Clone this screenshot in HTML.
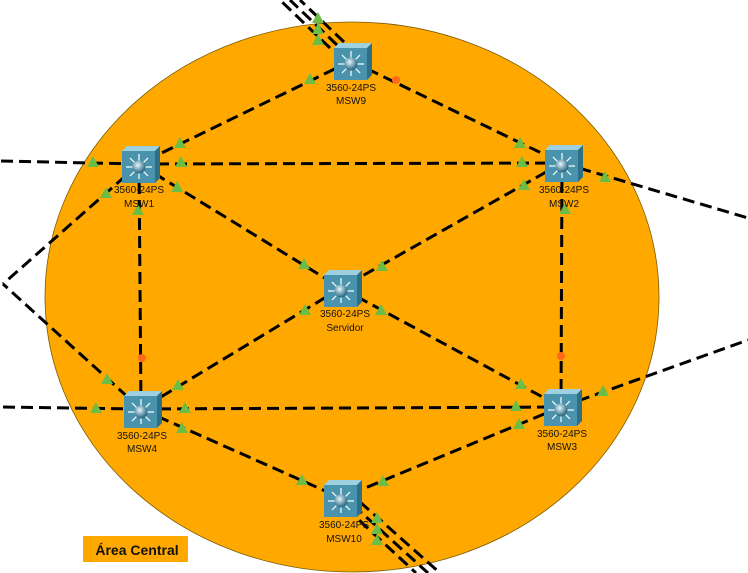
<!DOCTYPE html>
<html><head><meta charset="utf-8"><style>
body{margin:0;background:#fff;width:748px;height:573px;overflow:hidden}
svg{display:block}
text{font-family:"Liberation Sans",sans-serif;font-size:10px;fill:#111;text-anchor:middle}
</style></head><body>
<svg width="748" height="573" viewBox="0 0 748 573">
<defs>
<radialGradient id="bl" cx="0.4" cy="0.35" r="0.6"><stop offset="0" stop-color="#e8f6fb"/><stop offset="1" stop-color="#2d6d86"/></radialGradient>
<g id="sw">
<polygon points="-18,-13 -13,-18 20,-18 15,-13" fill="#9fd0e0"/>
<polygon points="15,-13 20,-18 20,14 15,19" fill="#2f6f86"/>
<rect x="-18" y="-13" width="33" height="32" fill="#4a93ad"/>
<g stroke="#fff" stroke-width="1.2">
<line x1="-1" y1="3" x2="-1" y2="-10"/><line x1="-1" y1="3" x2="-1" y2="15"/>
<line x1="-1" y1="3" x2="-14" y2="3"/><line x1="-1" y1="3" x2="12" y2="3"/>
<line x1="-1" y1="3" x2="-10" y2="-6"/><line x1="-1" y1="3" x2="8" y2="-6"/>
<line x1="-1" y1="3" x2="-10" y2="12"/><line x1="-1" y1="3" x2="8" y2="12"/>
</g>
<circle cx="-1" cy="3" r="6.5" fill="url(#bl)"/>
</g>
<polygon id="tr" points="0,-6 6,5 -6,5" fill="#6cbd45"/>
</defs>
<ellipse cx="352" cy="297" rx="307" ry="275" fill="#ffa900" stroke="#7a5a00" stroke-width="0.8"/>
<g stroke="#000" stroke-width="3" stroke-dasharray="12,6" fill="none">
<line x1="351" y1="61" x2="139" y2="164"/>
<line x1="351" y1="61" x2="562" y2="163"/>
<line x1="139" y1="164" x2="562" y2="163"/>
<line x1="139" y1="164" x2="341" y2="288"/>
<line x1="562" y1="163" x2="341" y2="288"/>
<line x1="139" y1="164" x2="141" y2="409"/>
<line x1="562" y1="163" x2="561" y2="407"/>
<line x1="341" y1="288" x2="141" y2="409"/>
<line x1="341" y1="288" x2="561" y2="407"/>
<line x1="141" y1="409" x2="561" y2="407"/>
<line x1="141" y1="409" x2="341" y2="498"/>
<line x1="561" y1="407" x2="341" y2="498"/>
<line x1="139" y1="164" x2="0" y2="161"/>
<line x1="139" y1="164" x2="3" y2="284"/>
<line x1="141" y1="409" x2="3" y2="284"/>
<line x1="141" y1="409" x2="0" y2="407"/>
<line x1="562" y1="163" x2="748" y2="218"/>
<line x1="561" y1="407" x2="748" y2="340"/>
<line x1="330" y1="48" x2="280" y2="0"/>
<line x1="337" y1="45" x2="290" y2="0"/>
<line x1="344" y1="42" x2="300" y2="0"/>
<line x1="346" y1="508" x2="416" y2="573"/>
<line x1="353" y1="505" x2="428" y2="573"/>
<line x1="360" y1="502" x2="440" y2="573"/>
</g>
<circle cx="396" cy="80" r="4" fill="#ff6a1a"/>
<circle cx="142" cy="358" r="4" fill="#ff6a1a"/>
<circle cx="561" cy="356" r="4" fill="#ff6a1a"/>
<g>
<use href="#tr" x="318" y="18"/><use href="#tr" x="318" y="29"/><use href="#tr" x="318" y="40"/>
<use href="#tr" x="310" y="79"/><use href="#tr" x="180" y="143"/><use href="#tr" x="520" y="143"/>
<use href="#tr" x="93" y="162"/><use href="#tr" x="181" y="162"/><use href="#tr" x="522" y="162"/>
<use href="#tr" x="106" y="193"/><use href="#tr" x="177" y="187"/><use href="#tr" x="524" y="185"/>
<use href="#tr" x="605" y="177"/><use href="#tr" x="138" y="210"/><use href="#tr" x="565" y="209"/>
<use href="#tr" x="304" y="264"/><use href="#tr" x="382" y="266"/>
<use href="#tr" x="305" y="310"/><use href="#tr" x="381" y="310"/>
<use href="#tr" x="107" y="379"/><use href="#tr" x="178" y="385"/><use href="#tr" x="521" y="384"/>
<use href="#tr" x="603" y="391"/><use href="#tr" x="96" y="408"/><use href="#tr" x="185" y="408"/>
<use href="#tr" x="516" y="406"/><use href="#tr" x="182" y="428"/><use href="#tr" x="519" y="424"/>
<use href="#tr" x="302" y="480"/><use href="#tr" x="383" y="481"/>
<use href="#tr" x="377" y="518"/><use href="#tr" x="377" y="529"/><use href="#tr" x="377" y="540"/>
</g>
<use href="#sw" x="352" y="61"/><use href="#sw" x="140" y="164"/><use href="#sw" x="563" y="163"/>
<use href="#sw" x="342" y="288"/><use href="#sw" x="142" y="409"/><use href="#sw" x="562" y="407"/>
<use href="#sw" x="342" y="498"/>
<text x="351" y="91">3560-24PS</text><text x="351" y="104">MSW9</text>
<text x="139" y="193">3560-24PS</text><text x="139" y="207">MSW1</text>
<text x="564" y="193">3560-24PS</text><text x="564" y="207">MSW2</text>
<text x="345" y="317">3560-24PS</text><text x="345" y="331">Servidor</text>
<text x="142" y="439">3560-24PS</text><text x="142" y="452">MSW4</text>
<text x="562" y="437">3560-24PS</text><text x="562" y="450">MSW3</text>
<text x="344" y="528">3560-24PS</text><text x="344" y="542">MSW10</text>
<rect x="83" y="536" width="105" height="26" fill="#ffa900"/>
<text x="137" y="555" style="font-size:14px;font-weight:bold">Área Central</text>
</svg>
</body></html>
